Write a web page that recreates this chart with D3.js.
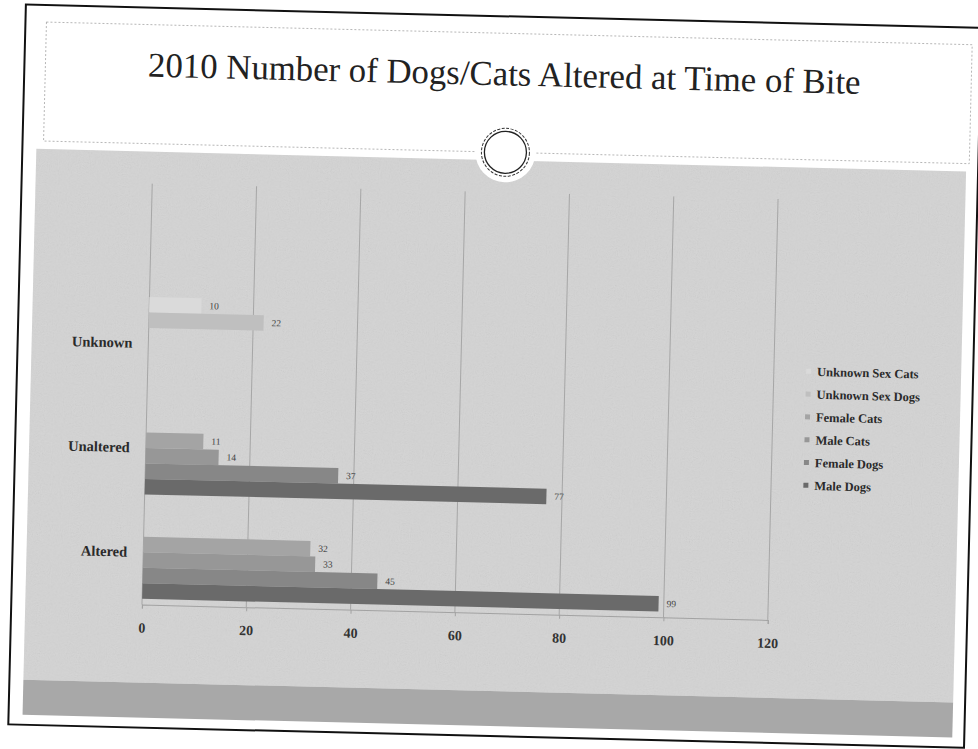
<!DOCTYPE html>
<html><head><meta charset="utf-8">
<script src="https://cdn.jsdelivr.net/npm/d3@7"></script>
<style>body{margin:0;background:#fff}svg{display:block}</style>
</head><body>
<svg id="chart" width="978" height="749"></svg>
<script>
// ---- data ----
const title = "2010 Number of Dogs/Cats Altered at Time of Bite";
const categories = ["Unknown", "Unaltered", "Altered"];
const seriesNames = ["Unknown Sex Cats", "Unknown Sex Dogs", "Female Cats", "Male Cats", "Female Dogs", "Male Dogs"];
const unknownSexCats = [10, null, null];
const unknownSexDogs = [22, null, null];
const femaleCats = [null, 11, 32];
const maleCats = [null, 14, 33];
const femaleDogs = [null, 37, 45];
const maleDogs = [null, 77, 99];
const xTicks = [0, 20, 40, 60, 80, 100, 120];

const seriesValues = [unknownSexCats, unknownSexDogs, femaleCats, maleCats, femaleDogs, maleDogs];
const colors = ["#dadada", "#bfbfbf", "#a4a4a4", "#979797", "#878787", "#6a6a6a"];

const svg = d3.select("#chart");
const defs = svg.append("defs");
const f = defs.append("filter").attr("id", "noise").attr("x", 0).attr("y", 0).attr("width", "100%").attr("height", "100%");
f.append("feTurbulence").attr("type", "fractalNoise").attr("baseFrequency", 0.9).attr("numOctaves", 2).attr("seed", 3);
f.append("feColorMatrix").attr("type", "saturate").attr("values", 0);

const root = svg.append("g").attr("transform", "rotate(1.4,489,374)");

// page frame
root.append("rect").attr("x", 17).attr("y", 16).attr("width", 956).attr("height", 720)
  .attr("fill", "#fff").attr("stroke", "#111").attr("stroke-width", 2);
// slide dotted outline
root.append("rect").attr("x", 38).attr("y", 33).attr("width", 926).attr("height", 119)
  .attr("fill", "none").attr("stroke", "#a5a5a5").attr("stroke-width", 0.8).attr("stroke-dasharray", "2,2");

// gray chart area
root.append("rect").attr("x", 31).attr("y", 160).attr("width", 930).attr("height", 531).attr("fill", "#d4d4d4");
root.append("rect").attr("x", 31).attr("y", 160).attr("width", 930).attr("height", 531)
  .attr("filter", "url(#noise)").attr("opacity", 0.18);
// bottom band
root.append("rect").attr("x", 31).attr("y", 691).attr("width", 930).attr("height", 35).attr("fill", "#a8a8a8");

// circle ornament
root.append("circle").attr("cx", 500).attr("cy", 152).attr("r", 30).attr("fill", "#fff");
root.append("circle").attr("cx", 500).attr("cy", 152).attr("r", 24).attr("fill", "none")
  .attr("stroke", "#333").attr("stroke-width", 1).attr("stroke-dasharray", "3,1.5");
root.append("circle").attr("cx", 500).attr("cy", 152).attr("r", 21).attr("fill", "#fff")
  .attr("stroke", "#222").attr("stroke-width", 1.3);

// title
const t = root.append("text").attr("x", 497).attr("y", 85).attr("text-anchor", "middle")
  .attr("font-family", "'Liberation Serif', 'DejaVu Serif', serif").attr("fill", "#222")
  .style("font-variant-numeric", "oldstyle-nums").text(title);
let fs = 30; t.attr("font-size", fs);
const w0 = t.node().getComputedTextLength();
fs = fs * 713 / w0; t.attr("font-size", fs);

// scales
const plotLeft = 147.7, plotTop = 192, plotBottom = 613;
const x = d3.scaleLinear().domain([0, 120]).range([plotLeft, plotLeft + 626]);
const y = d3.scaleBand().domain(categories).range([299.5, plotBottom]).paddingInner(0.11).paddingOuter(0.055);
const ys = d3.scaleBand().domain(seriesNames).range([0, y.bandwidth()]);

const plot = root.append("g");
// gridlines
plot.selectAll("line.grid").data(xTicks).join("line").attr("class", "grid")
  .attr("x1", d => x(d)).attr("x2", d => x(d)).attr("y1", plotTop).attr("y2", plotBottom)
  .attr("stroke", "#a2a2a2").attr("stroke-width", 0.9);

// x axis
const xAxis = d3.axisBottom(x).tickValues(xTicks).tickSize(4).tickPadding(14);
const ax = plot.append("g").attr("transform", `translate(0,${plotBottom})`).call(xAxis);
ax.select(".domain").attr("stroke", "#a2a2a2");
ax.selectAll(".tick line").attr("stroke", "#a2a2a2");
ax.selectAll(".tick text").attr("font-family", "'Liberation Serif', serif").attr("font-weight", "bold")
  .attr("font-size", 14).attr("fill", "#333");

// y axis labels
const yAxis = d3.axisLeft(y).tickSize(0).tickPadding(16);
const ay = plot.append("g").attr("transform", `translate(${plotLeft},0)`).call(yAxis);
ay.select(".domain").remove();
ay.selectAll(".tick text").attr("font-family", "'Liberation Serif', serif").attr("font-weight", "bold")
  .attr("font-size", 14.5).attr("fill", "#2a2a2a");

// bars
const barData = [];
seriesValues.forEach((vals, si) => vals.forEach((v, ci) => {
  if (v != null) barData.push({ s: seriesNames[si], si, c: categories[ci], v });
}));
plot.selectAll("rect.bar").data(barData).join("rect").attr("class", "bar")
  .attr("x", x(0)).attr("y", d => y(d.c) + ys(d.s)).attr("width", d => x(d.v) - x(0))
  .attr("height", ys.bandwidth()).attr("fill", d => colors[d.si]);
plot.selectAll("text.lbl").data(barData).join("text").attr("class", "lbl")
  .attr("x", d => x(d.v) + 8).attr("y", d => y(d.c) + ys(d.s) + ys.bandwidth() / 2 + 3)
  .attr("font-family", "'Liberation Serif', serif").attr("font-size", 9.5).attr("fill", "#444")
  .text(d => d.v);

// legend
const lg = root.append("g");
seriesNames.forEach((n, i) => {
  const yy = 364 + i * 22.8;
  lg.append("rect").attr("x", 806).attr("y", yy - 3).attr("width", 5).attr("height", 5).attr("fill", colors[i]);
  lg.append("text").attr("x", 817).attr("y", yy + 4).attr("font-family", "'Liberation Serif', serif")
    .attr("font-weight", "bold").attr("font-size", 12.5).attr("fill", "#2a2a2a").text(n);
});
</script>
</body></html>
